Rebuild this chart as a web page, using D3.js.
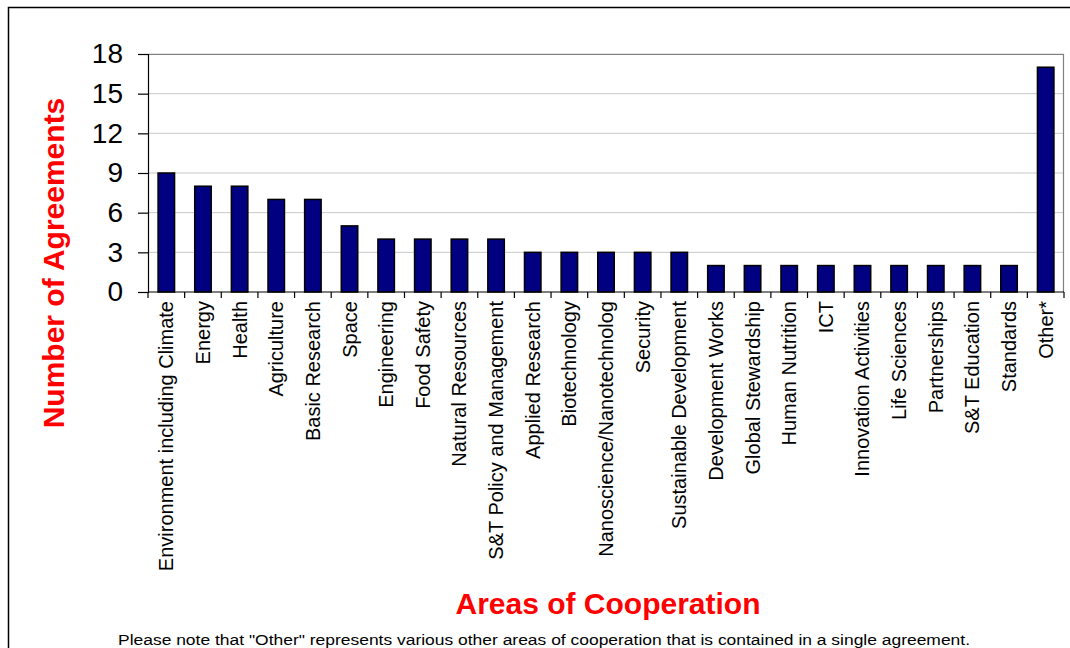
<!DOCTYPE html>
<html>
<head>
<meta charset="utf-8">
<script src="https://cdn.jsdelivr.net/npm/d3@7"></script>
<style>
  body { margin: 0; background: #fff; }
  svg { display: block; font-family: "Liberation Sans", Arial, sans-serif; }
</style>
</head>
<body>
<svg width="1070" height="648"></svg>
<script>
const areas = [
  "Environment including Climate", "Energy", "Health", "Agriculture",
  "Basic Research", "Space", "Engineering", "Food Safety", "Natural Resources",
  "S&T Policy and Management", "Applied Research", "Biotechnology",
  "Nanoscience/Nanotechnolog", "Security", "Sustainable Development",
  "Development Works", "Global Stewardship", "Human Nutrition", "ICT",
  "Innovation Activities", "Life Sciences", "Partnerships", "S&T Education",
  "Standards", "Other*"
];
const agreements = [9, 8, 8, 7, 7, 5, 4, 4, 4, 4, 3, 3, 3, 3, 3, 2, 2, 2, 2, 2, 2, 2, 2, 2, 17];
const yTicks = [0, 3, 6, 9, 12, 15, 18];

const svg = d3.select("svg");
const margin = { top: 54, right: 6, bottom: 356, left: 148 };
const width = 1070 - margin.left - margin.right;
const height = 648 - margin.top - margin.bottom;

// outer frame
svg.append("rect")
  .attr("x", 8.5).attr("y", 7.5)
  .attr("width", 1080).attr("height", 700)
  .attr("fill", "none").attr("stroke", "#000").attr("stroke-width", 1.5);

const x = d3.scaleBand().domain(areas).range([0, width]).paddingInner(0.55).paddingOuter(0.275);
const y = d3.scaleLinear().domain([0, 18]).range([height, 0]);

const g = svg.append("g").attr("transform", `translate(${margin.left},${margin.top})`);

// gridlines
g.selectAll(".grid")
  .data(yTicks.filter(d => d > 0))
  .enter()
  .append("line")
  .attr("class", "grid")
  .attr("x1", 0).attr("x2", width)
  .attr("y1", d => y(d)).attr("y2", d => y(d))
  .attr("stroke", "#c8c8c8").attr("stroke-width", 1);

// plot border (top and right)
g.append("path")
  .attr("d", `M0,0.5H${width - 0.5}V${height}`)
  .attr("fill", "none").attr("stroke", "#808080").attr("stroke-width", 1.2);

g.selectAll(".bar")
  .data(agreements)
  .enter()
  .append("rect")
  .attr("class", "bar")
  .attr("x", (d, i) => x(areas[i]))
  .attr("y", d => y(d))
  .attr("width", x.bandwidth())
  .attr("height", d => height - y(d))
  .attr("fill", "#000080")
  .attr("stroke", "#000").attr("stroke-width", 1.5);

// y axis
const yAxis = d3.axisLeft(y).tickValues(yTicks).tickSize(10).tickPadding(15);
const yg = g.append("g").call(yAxis);
yg.select(".domain").attr("stroke", "#000").attr("stroke-width", 1.2);
yg.selectAll(".tick line").attr("stroke", "#000").attr("stroke-width", 1.2);
yg.selectAll(".tick text")
  .attr("font-size", 28).attr("fill", "#000")
  .attr("font-family", "Liberation Sans, Arial, sans-serif");

// x axis with ticks at category boundaries
const xg = g.append("g").attr("transform", `translate(0,${height})`);
xg.append("line")
  .attr("x1", 0).attr("x2", width).attr("y1", 0).attr("y2", 0)
  .attr("stroke", "#000").attr("stroke-width", 1.2);
xg.selectAll(".xtick")
  .data(d3.range(areas.length + 1))
  .enter()
  .append("line")
  .attr("class", "xtick")
  .attr("x1", i => i * x.step()).attr("x2", i => i * x.step())
  .attr("y1", 0).attr("y2", 6)
  .attr("stroke", "#000").attr("stroke-width", 1.2);
xg.selectAll(".xlabel")
  .data(areas)
  .enter()
  .append("text")
  .attr("class", "xlabel")
  .attr("transform", d => `translate(${x(d) + x.bandwidth() / 2},9) rotate(-90)`)
  .attr("text-anchor", "end")
  .attr("dy", "0.35em")
  .attr("font-size", 20)
  .attr("fill", "#000")
  .text(d => d);

// axis titles
svg.append("text")
  .attr("transform", "translate(53,263) rotate(-90)")
  .attr("text-anchor", "middle")
  .attr("dy", "0.35em")
  .attr("font-size", 30).attr("font-weight", "bold")
  .attr("fill", "#ff0000")
  .text("Number of Agreements");

svg.append("text")
  .attr("x", 608).attr("y", 614)
  .attr("text-anchor", "middle")
  .attr("font-size", 30).attr("font-weight", "bold")
  .attr("fill", "#ff0000")
  .text("Areas of Cooperation");

svg.append("text")
  .attr("x", 118).attr("y", 645)
  .attr("textLength", 852)
  .attr("lengthAdjust", "spacingAndGlyphs")
  .attr("font-size", 15.5)
  .attr("fill", "#000")
  .text("Please note that \"Other\" represents various other areas of cooperation that is contained in a single agreement.");
</script>
</body>
</html>
